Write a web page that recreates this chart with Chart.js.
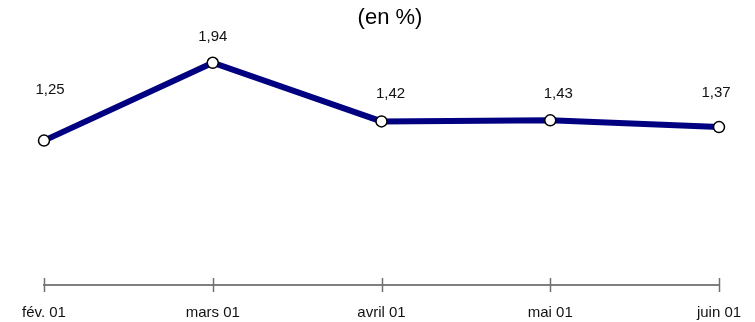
<!DOCTYPE html>
<html lang="fr">
<head>
<meta charset="utf-8">
<title>Taux mensuel (en %)</title>
<script src="https://cdn.jsdelivr.net/npm/chart.js@4"></script>
<style>
  html, body { margin: 0; padding: 0; background: #ffffff; }
  #wrap { width: 755px; height: 322px; }
</style>
</head>
<body>
<div id="wrap"><canvas id="chart" width="755" height="322"></canvas></div>
<script>
// Mois et valeurs (en %)
const months = ['fév. 01', 'mars 01', 'avril 01', 'mai 01', 'juin 01'];
const rates = [1.25, 1.94, 1.42, 1.43, 1.37];
const subtitle = '(en %)';

// Décalage de chaque étiquette de valeur par rapport à son point (px)
const labelShift = [[6, -51], [0, -26], [9, -28], [8, -26], [-3, -34]];

const FONT = '"Liberation Sans", Arial, sans-serif';

// Sous-titre centré au-dessus du graphique
const subtitleText = {
  id: 'subtitleText',
  afterDraw(chart) {
    const { ctx } = chart;
    ctx.save();
    ctx.font = '22px ' + FONT;
    ctx.fillStyle = '#000000';
    ctx.textAlign = 'center';
    ctx.textBaseline = 'middle';
    ctx.fillText(subtitle, 390, 18);
    ctx.restore();
  }
};

// Axe horizontal : trait gris avec graduations qui le traversent
const axisTicks = {
  id: 'axisTicks',
  afterDraw(chart) {
    const { ctx, scales: { x }, chartArea } = chart;
    const y = chartArea.bottom;
    ctx.save();
    ctx.strokeStyle = '#707070';
    ctx.lineWidth = 1.5;
    months.forEach((m, i) => {
      const px = Math.round(x.getPixelForValue(i)) + 0.5;
      ctx.beginPath();
      ctx.moveTo(px, y - 7);
      ctx.lineTo(px, y + 7);
      ctx.stroke();
    });
    ctx.restore();
  }
};

// Étiquettes des valeurs au-dessus des points
const valueLabels = {
  id: 'valueLabels',
  afterDatasetsDraw(chart) {
    const { ctx } = chart;
    const meta = chart.getDatasetMeta(0);
    ctx.save();
    ctx.font = '15px ' + FONT;
    ctx.fillStyle = '#111111';
    ctx.textAlign = 'center';
    ctx.textBaseline = 'middle';
    meta.data.forEach((pt, i) => {
      const [dx, dy] = labelShift[i];
      ctx.fillText(rates[i].toFixed(2).replace('.', ','), pt.x + dx, pt.y + dy);
    });
    ctx.restore();
  }
};

new Chart(document.getElementById('chart'), {
  type: 'line',
  data: {
    labels: months,
    datasets: [{
      data: rates,
      borderColor: '#000080',
      borderWidth: 6,
      pointRadius: 5.5,
      pointBorderWidth: 1.5,
      pointBorderColor: '#000000',
      pointBackgroundColor: '#ffffff',
      tension: 0,
      fill: false
    }]
  },
  options: {
    responsive: false,
    animation: false,
    layout: { padding: { left: 44, right: 36, top: 56, bottom: 0 } },
    plugins: {
      legend: { display: false },
      tooltip: { enabled: false },
      title: { display: false }
    },
    scales: {
      x: {
        offset: false,
        grid: { display: false },
        border: { display: true, color: '#808080', width: 2 },
        ticks: {
          color: '#111111',
          font: { family: FONT, size: 15, lineHeight: 1.2 },
          padding: 11,
          maxRotation: 0,
          autoSkip: false
        },
        afterFit(scale) { scale.height = 37; }
      },
      y: {
        display: false,
        min: -0.03,
        max: 2
      }
    }
  },
  plugins: [axisTicks, valueLabels, subtitleText]
});
</script>
</body>
</html>
